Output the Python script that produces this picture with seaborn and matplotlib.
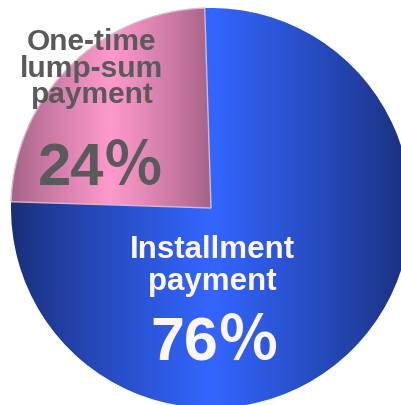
import numpy as np
import matplotlib
matplotlib.use("Agg")
import matplotlib.pyplot as plt
import seaborn as sns

# Payment method shares (percent)
categories = ["One-time\nlump-sum\npayment", "Installment\npayment"]
shares = [24, 76]
pct_labels = ["24％", "76％"]

sns.set_theme(style="white")
plt.rcParams["font.family"] = ["Liberation Sans", "Noto Sans CJK JP", "DejaVu Sans"]

W, H = 402, 405
fig = plt.figure(figsize=(W / 100, H / 100), dpi=100)
ax = fig.add_axes([0, 0, 1, 1])

cx, cy, R = 211, H - 208, 200
span = 360 * shares[0] / 100
start = 135 - span / 2  # centre the smaller slice on the upper-left diagonal

wedges, _ = ax.pie(
    shares,
    startangle=start,
    counterclock=True,
    center=(cx, cy),
    radius=R,
    colors=["none", "none"],
    wedgeprops=dict(linewidth=0),
)

# Cylindrical shading for each slice: dark at the sides, bright in the middle
shades = [
    # (edge colour, middle colour, x-range of the shading)
    ((0.64, 0.38, 0.52), (1.00, 0.60, 0.80), (cx - R, cx)),
    ((0.10, 0.18, 0.47), (0.20, 0.40, 1.00), (cx - R, cx + R)),
]
for wedge, (edge_c, mid_c, (x0, x1)) in zip(wedges, shades):
    xs = np.linspace(0, 1, 400)
    f = 1 - np.abs(xs - 0.5) * 2
    f = np.clip(f, 0, 1) ** 0.85
    edge_c, mid_c = np.array(edge_c), np.array(mid_c)
    row = edge_c[None, :] + (mid_c - edge_c)[None, :] * f[:, None]
    img = np.repeat(row[None, :, :], 2, axis=0)
    im = ax.imshow(img, extent=(x0, x1, cy - R, cy + R), origin="lower",
                   interpolation="bilinear", aspect="auto", zorder=1)
    im.set_clip_path(wedge)
    wedge.set_zorder(2)

wedges[0].set_edgecolor((0.84, 0.72, 0.80))
wedges[0].set_linewidth(1.0)

# Slice labels
label_styles = [
    dict(color="#5a5a5a", x=92, top=50, step=26.5, size=21.5, pct_x=101, pct_base=185, pct_size=43),
    dict(color="#fff6ff", x=212, top=258, step=32, size=22.5, pct_x=215, pct_base=360, pct_size=44),
]
for text, pct, st in zip(categories, pct_labels, label_styles):
    for i, line in enumerate(text.split("\n")):
        ax.text(st["x"], H - (st["top"] + i * st["step"]), line, ha="center", va="baseline",
                fontsize=st["size"], fontweight="bold", color=st["color"], zorder=5)
    ax.text(st["pct_x"], H - st["pct_base"], pct, ha="center", va="baseline",
            fontsize=st["pct_size"], fontweight="bold", color=st["color"], zorder=5)

ax.set_xlim(0, W)
ax.set_ylim(0, H)
ax.set_aspect("equal")
ax.axis("off")
fig.savefig("out.png", dpi=100, facecolor="white")
